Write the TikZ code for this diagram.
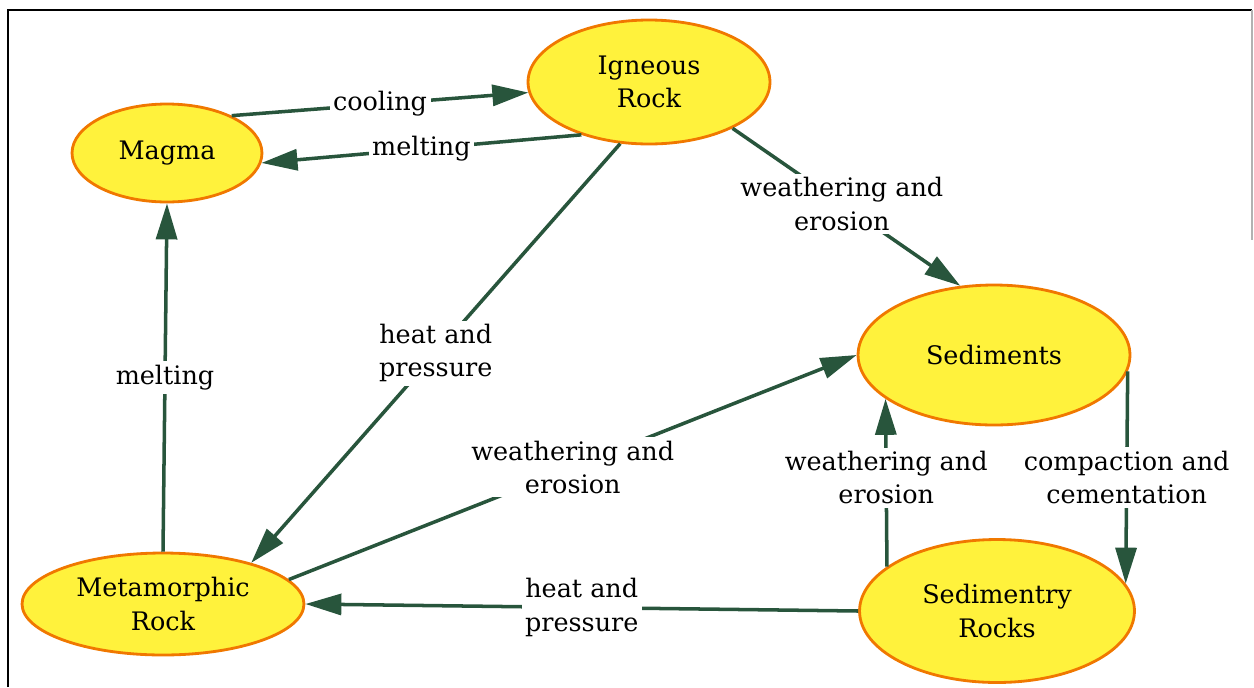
\documentclass[tikz,border=0pt]{standalone}
\usepackage{fontspec}
\setmainfont{DejaVu Serif}
\usetikzlibrary{arrows.meta,shapes.geometric}
\definecolor{rockfill}{RGB}{255,242,60}
\definecolor{rockline}{RGB}{240,120,0}
\definecolor{flowgreen}{RGB}{40,85,60}
\tikzset{
  rock/.style={ellipse, draw=rockline, fill=rockfill, line width=1.6pt,
    inner sep=0pt, align=center, font=\fontsize{14.5}{19}\selectfont},
  flow/.style={draw=flowgreen, line width=2pt,
    -{Triangle[length=0.72cm,width=0.42cm]}},
  flowtext/.style={fill=white, inner sep=2pt, align=center,
    font=\fontsize{14.5}{19}\selectfont}
}

\begin{document}
\begin{tikzpicture}[x=0.02cm,y=-0.02cm]
  \useasboundingbox (0,0) rectangle (1254,687);
  \draw[line width=1pt] (8,687) -- (8,10) -- (1252,10);
  \draw[gray!60, line width=0.8pt] (1252,10) -- (1252,240);

  % the rocks
  \node[rock, minimum width=3.8cm, minimum height=1.96cm] (magma) at (167,153) {Magma};
  \node[rock, minimum width=4.84cm, minimum height=2.48cm] (igneous) at (649,82) {Igneous\\Rock};
  \node[rock, minimum width=5.44cm, minimum height=2.8cm] (sediments) at (994,355) {Sediments};
  \node[rock, minimum width=5.5cm, minimum height=2.86cm] (sedrocks) at (997,611) {Sedimentry\\Rocks};
  \node[rock, minimum width=5.64cm, minimum height=2.04cm] (metamorphic) at (163,604) {Metamorphic\\Rock};

  % the cycle
  \draw[flow] (magma.30) -- node[flowtext] {cooling} (igneous.185);
  \draw[flow] (igneous.218) -- node[flowtext] {melting} (magma.-6);
  \draw[flow] (igneous.-29) -- node[flowtext, pos=0.48] {weathering and\\erosion} (sediments.116);
  \draw[flow] (igneous.245) -- node[flowtext] {heat and\\pressure} (metamorphic.25);
  \draw[flow] (metamorphic.north) -- node[flowtext] {melting} (magma.south);
  \draw[flow] (metamorphic.11) -- node[flowtext] {weathering and\\erosion} (sediments.west);
  \draw[flow] (sedrocks.158) -- node[flowtext, pos=0.53] {weathering and\\erosion} (sediments.202);
  \draw[flow] (sediments.-7) -- node[flowtext] {compaction and\\cementation} (sedrocks.12);
  \draw[flow] (sedrocks.west) -- node[flowtext] {heat and\\pressure} (metamorphic.east);
\end{tikzpicture}
\end{document}
